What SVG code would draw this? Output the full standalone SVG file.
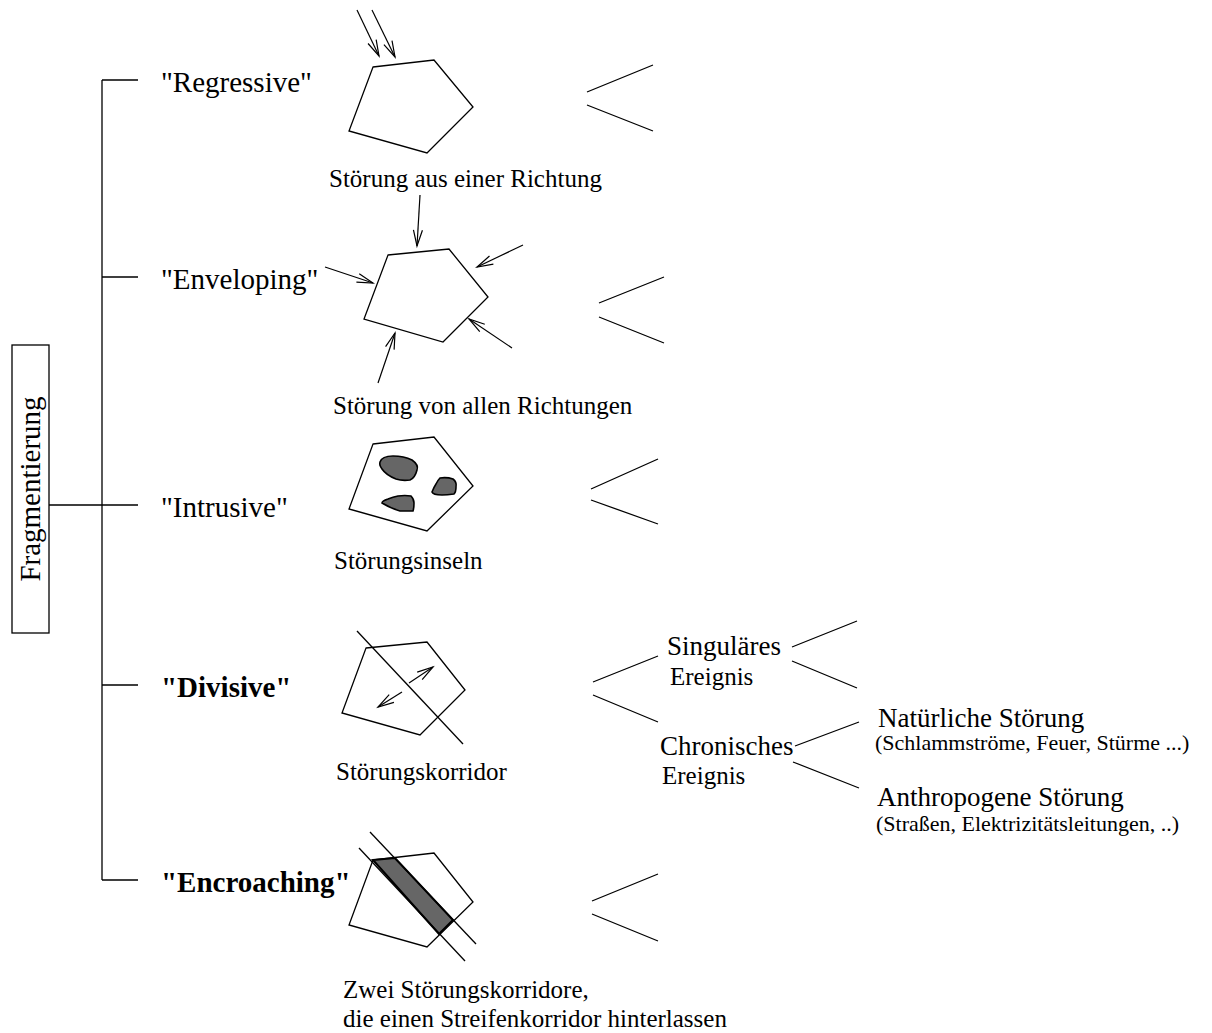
<svg xmlns="http://www.w3.org/2000/svg" width="1212" height="1033" viewBox="0 0 1212 1033">
<style>
text{font-family:"Liberation Serif","Times New Roman",serif;fill:#000}
.lab{font-size:29px}
.b{font-weight:bold}
.cap{font-size:25px}
.mid{font-size:27px}
.sm{font-size:22px}
.ln{fill:none;stroke:#000;stroke-width:1.3}
.pg{fill:#fff;stroke:#000;stroke-width:1.3}
.blob{fill:#666;stroke:#000;stroke-width:1.6}
.ar{fill:none;stroke:#000;stroke-width:1.2;marker-end:url(#ah)}
</style>
<defs>
<marker id="ah" markerUnits="userSpaceOnUse" markerWidth="30" markerHeight="30" refX="0" refY="0" viewBox="-20 -15 30 30" orient="auto" overflow="visible">
<path d="M-16,-4.5 L0,0 L-16,4.5" fill="none" stroke="#000" stroke-width="1.2"/>
</marker>
</defs>
<rect width="1212" height="1033" fill="#fff"/>

<g id="connectors">
<path class="ln" d="M102,80 V880 M102,80 H138 M102,277 H138 M49,505 H138 M102,685 H138 M102,880 H138"/>
<path class="ln" d="M653,65 L587,92 M587,105 L653,131"/>
<path class="ln" d="M664,277 L599,303 M599,317 L664,343"/>
<path class="ln" d="M658,459 L591,489 M591,500 L658,524"/>
<path class="ln" d="M658,656 L593,682 M593,695 L658,722"/>
<path class="ln" d="M857,621 L792,647 M792,661 L857,688"/>
<path class="ln" d="M859,722 L795,746 M793,762 L859,788"/>
<path class="ln" d="M658,874 L592,901 M592,914 L658,941"/>
</g>

<g id="root">
<rect x="12" y="345" width="37" height="288" fill="#fff" stroke="#000" stroke-width="1.3"/>
<text class="lab" transform="translate(40,489) rotate(-90)" text-anchor="middle">Fragmentierung</text>
</g>

<g id="regressive">
<text class="lab" x="161" y="92">"Regressive"</text>
<polygon class="pg" points="373,67 434,60 473,107 427,153 349,131"/>
<line class="ar" x1="357" y1="10" x2="379" y2="56"/>
<line class="ar" x1="372" y1="10" x2="395" y2="57"/>
<text class="cap" x="329" y="187">Störung aus einer Richtung</text>
</g>

<g id="enveloping">
<text class="lab" x="161" y="289">"Enveloping"</text>
<polygon class="pg" points="388,255 449,249 488,297 443,342 364,319"/>
<line class="ar" x1="420" y1="195" x2="417" y2="246"/>
<line class="ar" x1="325" y1="267" x2="373" y2="283"/>
<line class="ar" x1="523" y1="245" x2="477" y2="267"/>
<line class="ar" x1="512" y1="348" x2="469" y2="319"/>
<line class="ar" x1="378" y1="383" x2="395" y2="333"/>
<text class="cap" x="333" y="414">Störung von allen Richtungen</text>
</g>

<g id="intrusive">
<text class="lab" x="161" y="517">"Intrusive"</text>
<polygon class="pg" points="373,444 434,437 473,486 427,531 349,509"/>
<path class="blob" d="M380,462 Q382,456 393,456 Q404,456 412,460 Q419,465 417,470 Q415,478 410,480 Q402,481 396,479 Q386,475 382,469 Q379,465 380,462 Z"/>
<path class="blob" d="M440,478 Q447,477 453,479 Q457,482 456,487 Q456,492 454,494 Q447,495 442,495 Q433,495 432,492 Q434,487 436,484 Q438,480 440,478 Z"/>
<path class="blob" d="M398,496 Q405,495 411,496 Q414,499 414,503 Q414,508 413,511 Q406,511 400,511 Q390,508 382,503 Q382,501 388,499 Q393,497 398,496 Z"/>
<text class="cap" x="334" y="569">Störungsinseln</text>
</g>

<g id="divisive">
<text class="lab b" x="161" y="697">"Divisive"</text>
<polygon class="pg" points="366,648 427,642 465,690 420,735 342,713"/>
<line class="ln" x1="357" y1="631" x2="463" y2="744"/>
<line class="ar" x1="409" y1="683" x2="433" y2="667"/>
<line class="ar" x1="402" y1="692" x2="378" y2="707"/>
<text class="cap" x="336" y="780">Störungskorridor</text>
</g>

<g id="singular">
<text class="mid" x="667" y="655">Singuläres</text>
<text class="cap" x="670" y="685">Ereignis</text>
</g>

<g id="chronic">
<text class="mid" x="660" y="755">Chronisches</text>
<text class="cap" x="662" y="784">Ereignis</text>
</g>

<g id="natural">
<text class="mid" x="878" y="727">Natürliche Störung</text>
<text class="sm" x="875" y="750">(Schlammströme, Feuer, Stürme ...)</text>
</g>

<g id="anthropogenic">
<text class="mid" x="877" y="806">Anthropogene Störung</text>
<text class="sm" x="876" y="831">(Straßen, Elektrizitätsleitungen, ..)</text>
</g>

<g id="encroaching">
<text class="lab b" x="161" y="892">"Encroaching"</text>
<polygon class="pg" points="373,860 434,853 473,902 427,947 349,925"/>
<polygon fill="#666" stroke="#000" stroke-width="2" points="373,860 395,858 453,920 439,934"/>
<line class="ln" x1="370" y1="832" x2="476" y2="944"/>
<line class="ln" x1="359" y1="848" x2="465" y2="961"/>
<text class="cap" x="343" y="998">Zwei Störungskorridore,</text>
<text class="cap" x="343" y="1027">die einen Streifenkorridor hinterlassen</text>
</g>
</svg>
